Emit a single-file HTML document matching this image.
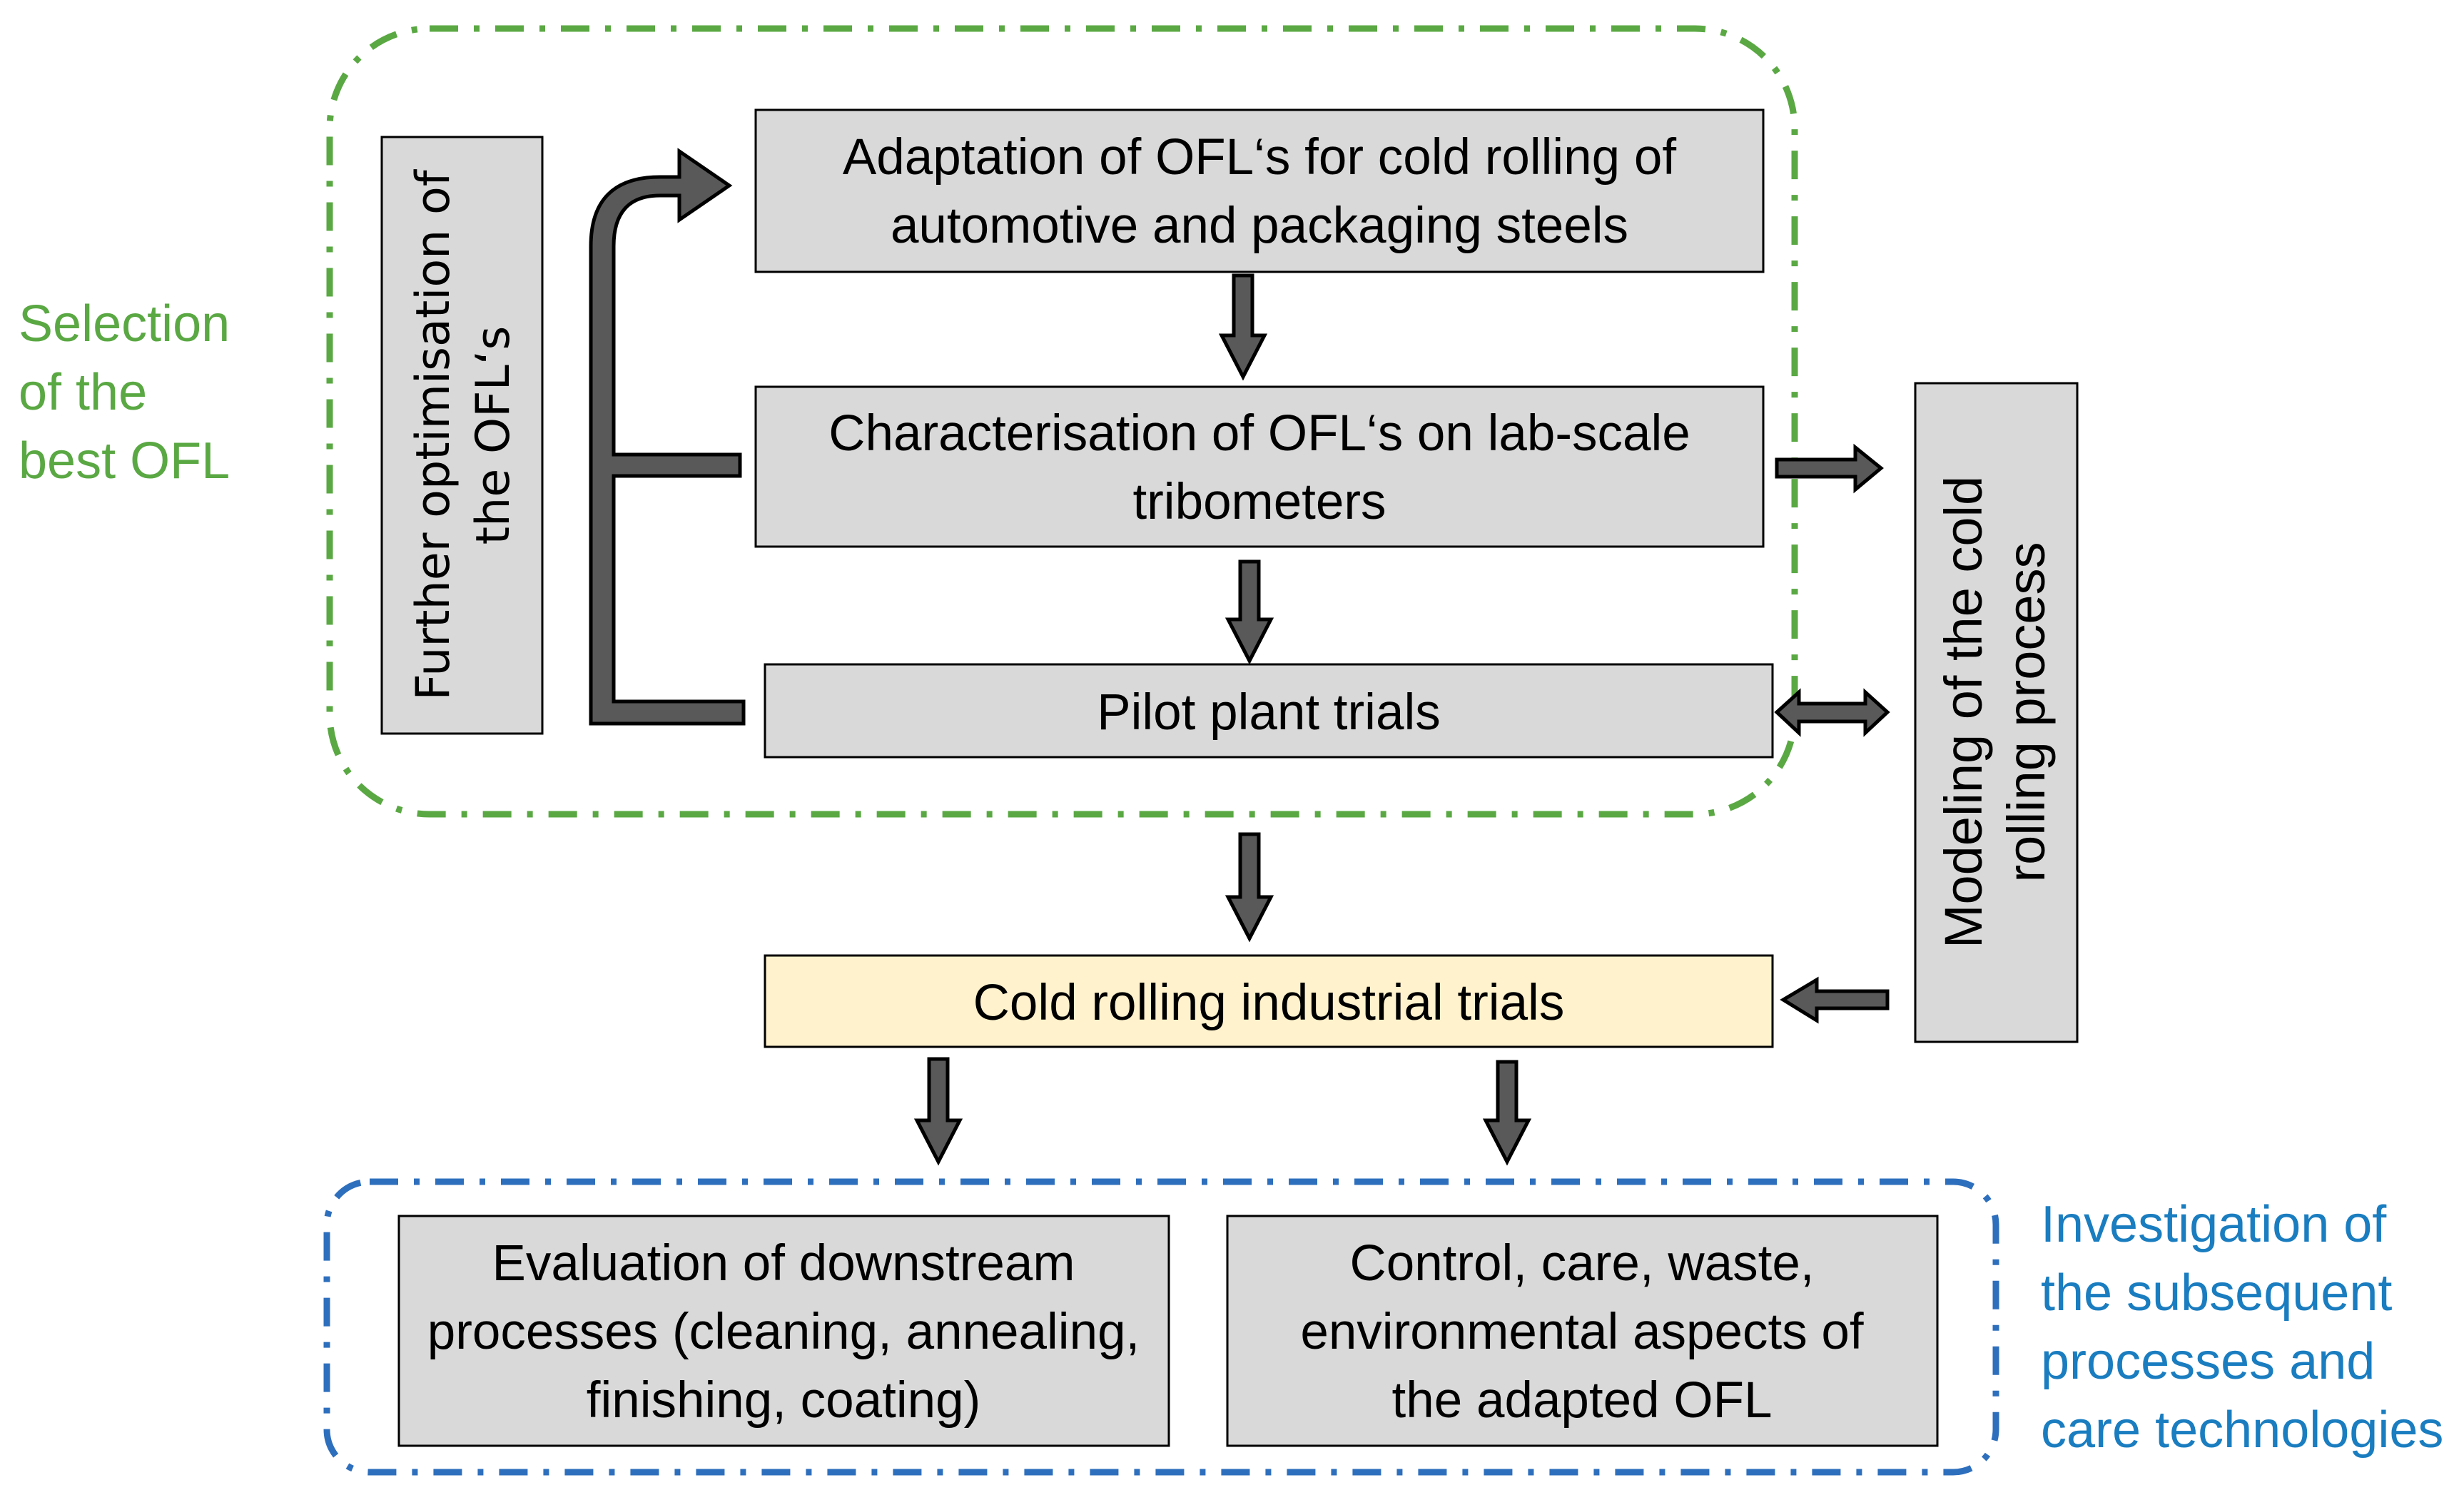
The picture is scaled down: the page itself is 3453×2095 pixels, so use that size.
<!DOCTYPE html>
<html><head><meta charset="utf-8"><style>
html,body{margin:0;padding:0;background:#fff;}
svg{display:block;}
.t{font-family:"Liberation Sans",sans-serif;font-size:71px;fill:#000;text-anchor:middle;}
.m{font-family:"Liberation Sans",sans-serif;font-size:74px;fill:#000;text-anchor:middle;}
.v{font-family:"DejaVu Sans",sans-serif;font-size:65px;fill:#000;text-anchor:middle;}
</style></head><body>
<svg width="3453" height="2095" viewBox="0 0 3453 2095" xmlns="http://www.w3.org/2000/svg">
<rect x="462" y="40" width="2053" height="1101" rx="140" ry="140" fill="none" stroke="#5aa843" stroke-width="9" stroke-dasharray="40,22,8,22"/>
<rect x="458" y="1656" width="2339" height="407" rx="60" ry="60" fill="none" stroke="#2e6fbd" stroke-width="9" stroke-dasharray="40,22,8,22"/>

<g font-family="Liberation Sans, sans-serif" font-size="72" fill="#5aa843">
<text x="26" y="478">Selection</text>
<text x="26" y="574">of the</text>
<text x="26" y="670">best OFL</text>
</g>
<g font-family="Liberation Sans, sans-serif" font-size="72" fill="#1a7dc0">
<text x="2860" y="1740">Investigation of</text>
<text x="2860" y="1836">the subsequent</text>
<text x="2860" y="1932">processes and</text>
<text x="2860" y="2028">care technologies</text>
</g>

<g stroke="#000" stroke-width="3" fill="#d9d9d9">
<rect x="535" y="192" width="225" height="836"/>
<rect x="1059" y="154" width="1412" height="227"/>
<rect x="1059" y="542" width="1412" height="224"/>
<rect x="1072" y="931" width="1412" height="130"/>
<rect x="2684" y="537" width="227" height="923"/>
<rect x="1072" y="1339" width="1412" height="128" fill="#fff2cc"/>
<rect x="559" y="1704" width="1079" height="322"/>
<rect x="1720" y="1704" width="995" height="322"/>
</g>

<text class="t" x="1765" y="244">Adaptation of OFL‘s for cold rolling of</text>
<text class="t" x="1765" y="340">automotive and packaging steels</text>
<text class="t" x="1765" y="631">Characterisation of OFL‘s on lab-scale</text>
<text class="t" x="1765" y="727">tribometers</text>
<text class="t" x="1778" y="1022">Pilot plant trials</text>
<text class="t" x="1778" y="1429">Cold rolling industrial trials</text>
<text class="t" x="1098" y="1794">Evaluation of downstream</text>
<text class="t" x="1098" y="1890">processes (cleaning, annealing,</text>
<text class="t" x="1098" y="1986">finishing, coating)</text>
<text class="t" x="2217" y="1794">Control, care, waste,</text>
<text class="t" x="2217" y="1890">environmental aspects of</text>
<text class="t" x="2217" y="1986">the adapted OFL</text>

<g transform="translate(647,610) rotate(-90)">
<text class="v" x="0" y="-18">Further optimisation of</text>
<text class="v" x="0" y="66">the OFL‘s</text>
</g>
<g transform="translate(2797,998) rotate(-90)">
<text class="m" x="0" y="-20">Modeling of the cold</text>
<text class="m" x="0" y="68">rolling process</text>
</g>

<g fill="#595959" stroke="#000" stroke-width="5" stroke-linejoin="miter">
<polygon points="1729,386 1755,386 1755,470 1772,470 1742,528 1712,470 1729,470"/>
<polygon points="1738,787 1764,787 1764,868 1781,868 1751,926 1721,868 1738,868"/>
<polygon points="1738,1169 1764,1169 1764,1257 1781,1257 1751,1315 1721,1257 1738,1257"/>
<polygon points="1302,1484 1328,1484 1328,1570 1345,1570 1315,1628 1285,1570 1302,1570"/>
<polygon points="2099,1488 2125,1488 2125,1570 2142,1570 2112,1628 2082,1570 2099,1570"/>
<polygon points="2490,644 2600,644 2600,627 2636,656 2600,686 2600,668 2490,668"/>
<polygon points="2490,998 2521,970 2521,986 2614,986 2614,970 2645,998 2614,1027 2614,1011 2521,1011 2521,1027"/>
<polygon points="2645,1389 2645,1413 2546,1413 2546,1430 2499,1401 2546,1373 2546,1389"/>
<path d="M828,1014 L828,345 Q828,248 925,248 L952,248 L952,212 L1022,260 L952,308 L952,274 L925,274 Q860,274 860,345 L860,637 L1037,637 L1037,667 L860,667 L860,983 L1042,983 L1042,1014 Z"/>
</g>
</svg>
</body></html>
